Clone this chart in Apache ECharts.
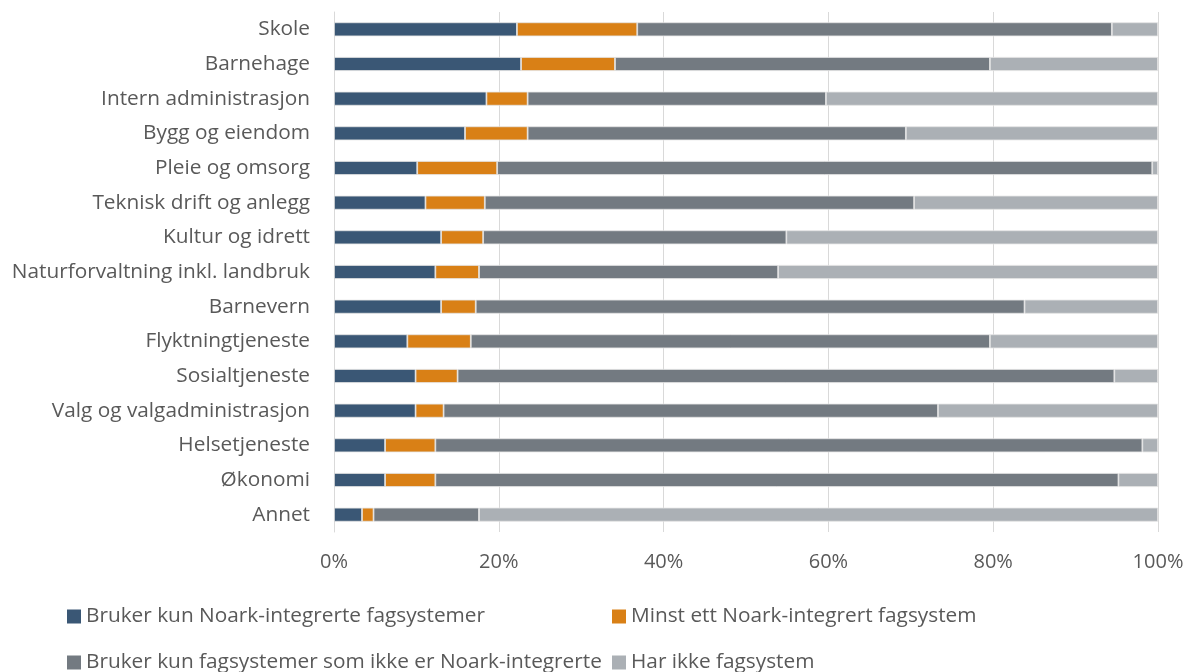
<!DOCTYPE html>
<html>
<head>
<meta charset="utf-8">
<script src="https://cdn.jsdelivr.net/npm/echarts@6/dist/echarts.min.js"></script>
<style>
html,body{margin:0;padding:0;background:#fff}
#chart{width:1189px;height:672px}
</style>
</head>
<body>
<div id="chart"></div>
<script>
var categories = ['Skole','Barnehage','Intern administrasjon','Bygg og eiendom','Pleie og omsorg',
  'Teknisk drift og anlegg','Kultur og idrett','Naturforvaltning inkl. landbruk','Barnevern',
  'Flyktningtjeneste','Sosialtjeneste','Valg og valgadministrasjon','Helsetjeneste','Økonomi','Annet'];
var seriesNames = ['Bruker kun Noark-integrerte fagsystemer','Minst ett Noark-integrert fagsystem',
  'Bruker kun fagsystemer som ikke er Noark-integrerte','Har ikke fagsystem'];
var kunNoark    = [22.2, 22.7, 18.5, 15.9, 10.1, 11.1, 13.0, 12.3, 13.0, 8.9, 9.9, 9.9, 6.2, 6.2, 3.4];
var minstEtt    = [14.6, 11.4,  5.0,  7.6,  9.7,  7.2,  5.1,  5.3,  4.2, 7.7, 5.1, 3.4, 6.1, 6.1, 1.4];
var ikkeNoark   = [57.6, 45.5, 36.2, 45.9, 79.5, 52.1, 36.8, 36.3, 66.6, 63.0, 79.7, 60.0, 85.8, 82.9, 12.8];
var ingenSystem = [ 5.6, 20.4, 40.3, 30.6,  0.7, 29.6, 45.1, 46.1, 16.2, 20.4,  5.3, 26.7,  1.9,  4.8, 82.4];
var colors = ['#3a5775','#d98016','#737a81','#abb0b5'];

var font = 'Open Sans';
var values = [kunNoark, minstEtt, ikkeNoark, ingenSystem];
var legendText = {color: '#595959', fontSize: 20.8, fontFamily: font};

// one legend per item so the two columns line up like the original
var legendPos = [[67, 606], [612, 606], [67, 652], [612, 652]];
var legends = seriesNames.map(function(name, i){
  return {left: legendPos[i][0], top: legendPos[i][1], itemWidth: 14, itemHeight: 14, itemGap: 6,
    icon: 'rect', data: [name], itemStyle: {borderWidth: 0}, textStyle: legendText, padding: 0};
});

var chart = echarts.init(document.getElementById('chart'));
chart.setOption({
  animation: false,
  color: colors,
  textStyle: {fontFamily: font},
  grid: {left: 334, right: 31, top: 12, bottom: 140, containLabel: false},
  xAxis: {
    type: 'value', min: 0, max: 100, interval: 20,
    axisLabel: {formatter: '{value}%', color: '#595959', fontSize: 20, fontFamily: font, margin: 20},
    splitLine: {lineStyle: {color: '#d9d9d9', width: 1}},
    axisLine: {show: false}, axisTick: {show: false}
  },
  yAxis: {
    type: 'category', data: categories, inverse: true,
    axisLabel: {color: '#595959', fontSize: 20.8, fontFamily: font, margin: 24},
    axisLine: {lineStyle: {color: '#d9d9d9'}},
    axisTick: {show: false}
  },
  legend: legends,
  series: seriesNames.map(function(name, i){
    return {
      name: name, type: 'bar', stack: 'total', barWidth: 14,
      data: values[i],
      itemStyle: {color: colors[i], borderColor: '#e3e3e3', borderWidth: 0.8}
    };
  })
});
</script>
</body>
</html>
